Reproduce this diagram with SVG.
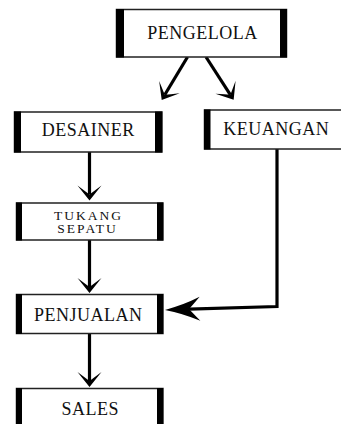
<svg xmlns="http://www.w3.org/2000/svg" width="341" height="424" viewBox="0 0 341 424">
<style>
.box{fill:#fff;stroke:#222;stroke-width:1.5}
.bar{fill:#000}
.t{font-family:"Liberation Serif","Times New Roman",serif;font-size:18px;letter-spacing:0.5px;fill:#111;text-anchor:middle}
.ts{font-family:"Liberation Serif","Times New Roman",serif;font-size:13.5px;letter-spacing:2px;fill:#111;text-anchor:middle}
.c{fill:none;stroke:#000;stroke-width:3.2}
.a{marker-end:url(#ah)}
.al{marker-end:url(#ahl)}
</style>
<defs>
<marker id="ah" markerUnits="userSpaceOnUse" viewBox="-16 -13 17 26" markerWidth="17" markerHeight="26" refX="-6" refY="0" orient="auto">
<path d="M0,0 L-15,-12 Q-9,-4 -6,0 Q-9,4 -15,12 Z" fill="#000"/>
</marker>
<marker id="ahl" markerUnits="userSpaceOnUse" viewBox="-37 -13 38 26" markerWidth="38" markerHeight="26" refX="-24" refY="0" orient="auto">
<path d="M0,0 Q-18,-4 -35,-12 Q-27,-3 -24,0 Q-27,3 -35,12 Q-18,4 0,0 Z" fill="#000"/>
</marker>
</defs>
<g id="connectors">
<line class="c a" x1="187.5" y1="57" x2="164.8" y2="94.8"/>
<line class="c a" x1="206" y1="57" x2="230.4" y2="94.8"/>
<line class="c a" x1="89.5" y1="152" x2="89.5" y2="194.5"/>
<line class="c a" x1="89.5" y1="240" x2="89.5" y2="287"/>
<polyline class="c al" points="277,149 277,306.5 189,309.2"/>
<line class="c a" x1="89.5" y1="333" x2="89.5" y2="381"/>
</g>
<g id="pengelola">
<rect class="box" x="116.5" y="9.5" width="170" height="47.5"/>
<rect class="bar" x="116" y="9" width="8" height="48.5"/>
<rect class="bar" x="280" y="9" width="7" height="48.5"/>
<text class="t" x="202.5" y="39">PENGELOLA</text>
</g>
<g id="desainer">
<rect class="box" x="14.5" y="112" width="147.5" height="40"/>
<rect class="bar" x="14" y="111.5" width="7" height="41"/>
<rect class="bar" x="155" y="111.5" width="7" height="41"/>
<text class="t" x="88.3" y="136">DESAINER</text>
</g>
<g id="keuangan">
<rect class="box" x="204.5" y="110" width="140" height="39"/>
<rect class="bar" x="204" y="109.5" width="6.5" height="40"/>
<text class="t" x="276.3" y="135">KEUANGAN</text>
</g>
<g id="tukang-sepatu">
<rect class="box" x="16.5" y="203" width="146.5" height="37"/>
<rect class="bar" x="16" y="202.5" width="6" height="38"/>
<rect class="bar" x="157" y="202.5" width="6" height="38"/>
<text class="ts" x="88.5" y="220">TUKANG</text>
<text class="ts" x="87.5" y="233">SEPATU</text>
</g>
<g id="penjualan">
<rect class="box" x="16.5" y="294.5" width="146.5" height="39"/>
<rect class="bar" x="16" y="294" width="6" height="40"/>
<rect class="bar" x="157" y="294" width="6" height="40"/>
<text class="t" x="88.3" y="321">PENJUALAN</text>
</g>
<g id="sales">
<rect class="box" x="16.5" y="388.5" width="146.5" height="40"/>
<rect class="bar" x="16" y="388" width="6" height="40"/>
<rect class="bar" x="157" y="388" width="6" height="40"/>
<text class="t" x="90.3" y="415">SALES</text>
</g>
</svg>
